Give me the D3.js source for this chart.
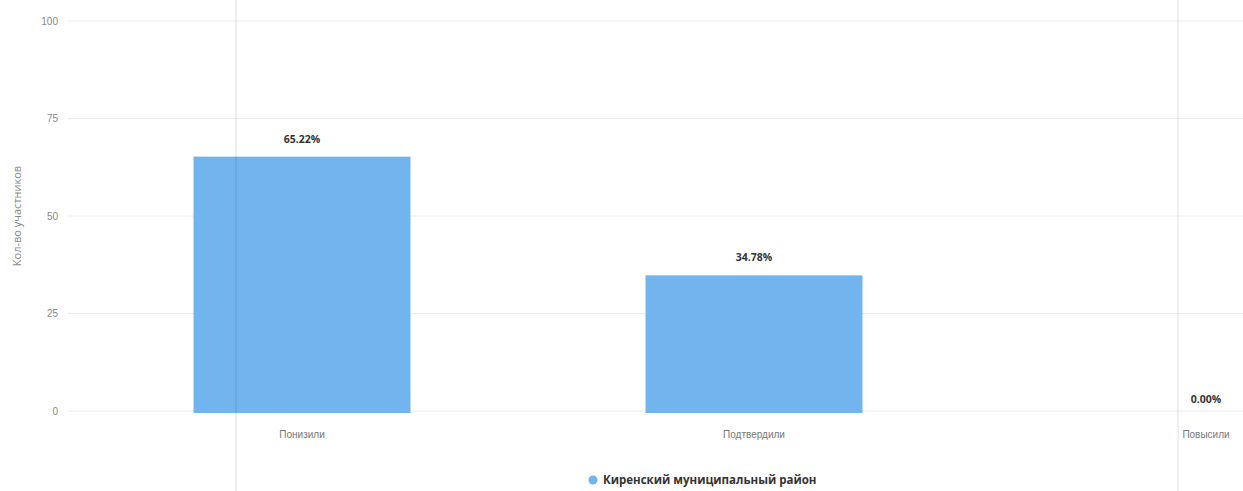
<!DOCTYPE html>
<html><head><meta charset="utf-8">
<script src="https://cdn.jsdelivr.net/npm/d3@7"></script>
<style>body{margin:0;background:#fff}svg{display:block;font-family:"Open Sans","Noto Sans",sans-serif}</style>
</head><body><svg id="c" width="1243" height="491"></svg>
<script>
const categories = ["Понизили", "Подтвердили", "Повысили"];
const values = [65.22, 34.78, 0.00];
const seriesName = "Киренский муниципальный район";
const yTicks = [0, 25, 50, 75, 100];
const yTitle = "Кол-во участников";

const svg = d3.select("#c");
const W = 1243, H = 491;
const x = d3.scaleBand().domain(categories).range([76, 1432]).paddingInner(0.52).paddingOuter(0.26);
const y = d3.scaleLinear().domain([0, 100]).range([411, 21]);
const color = "#72b5ee";

// gridlines
svg.append("g").selectAll("line").data(yTicks).join("line")
  .attr("x1", 68).attr("x2", W).attr("y1", d => y(d)).attr("y2", d => y(d))
  .attr("stroke", "#ececec").attr("stroke-width", 1);

// y axis labels
const ya = svg.append("g").attr("transform", "translate(62,0)")
  .call(d3.axisLeft(y).tickValues(yTicks).tickSize(0).tickPadding(4));
ya.select(".domain").remove();
ya.selectAll("text").attr("fill", "#888").style("font-size", "10px");

// y title
svg.append("text").attr("transform", `translate(21,${y(50)}) rotate(-90)`)
  .attr("text-anchor", "middle").attr("fill", "#888").style("font-size", "11px").text(yTitle);

// bars
svg.append("g").selectAll("rect").data(values).join("rect")
  .attr("x", (d, i) => x(categories[i]))
  .attr("width", x.bandwidth())
  .attr("y", d => y(d))
  .attr("height", d => d > 0 ? y(0) - y(d) + 2 : 0)
  .attr("fill", color);

// value labels
svg.append("g").selectAll("text").data(values).join("text")
  .attr("x", (d, i) => x(categories[i]) + x.bandwidth() / 2)
  .attr("y", d => y(d) - (d > 0 ? 14 : 8))
  .attr("text-anchor", "middle").attr("fill", "#333")
  .style("font-size", "10.5px").style("font-weight", "bold")
  .text(d => d.toFixed(2) + "%");

// x axis labels
const xa = svg.append("g").attr("transform", `translate(0,${y(0)})`)
  .call(d3.axisBottom(x).tickSize(0).tickPadding(20));
xa.select(".domain").remove();
xa.selectAll("text").attr("fill", "#777").style("font-size", "10px");

// scan fold lines
svg.append("g").selectAll("line").data([236, 1178]).join("line")
  .attr("x1", d => d).attr("x2", d => d).attr("y1", 0).attr("y2", H)
  .attr("stroke", "#000").attr("stroke-width", 1).attr("opacity", 0.12);

// legend
const lg = svg.append("g").attr("transform", "translate(593,480)");
lg.append("circle").attr("r", 4.5).attr("fill", color);
lg.append("text").attr("x", 10).attr("y", 4).attr("fill", "#333")
  .style("font-size", "11.5px").style("font-weight", "bold").text(seriesName);
</script></body></html>
